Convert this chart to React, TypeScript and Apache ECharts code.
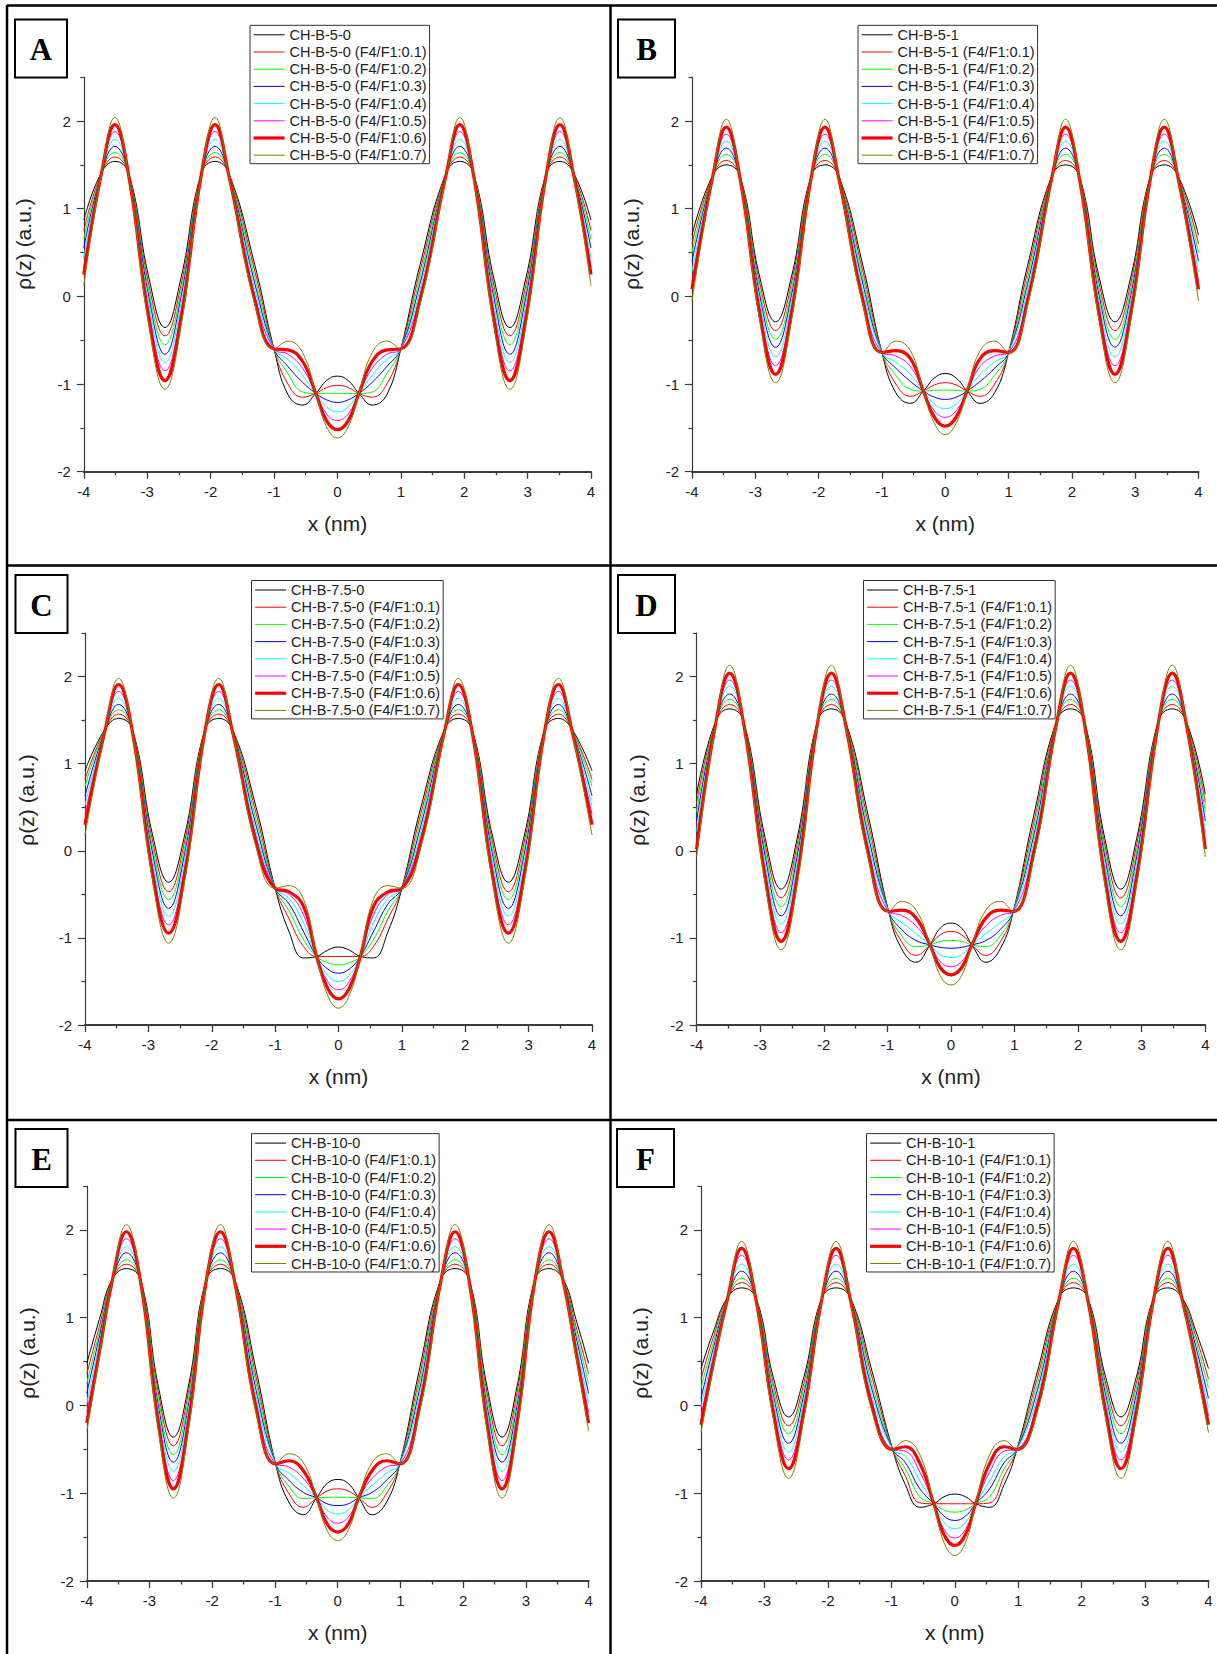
import React, { useEffect, useRef } from "react";
import * as echarts from "echarts";

// ---------- tick values ----------
const X_TICKS = [-4, -3, -2, -1, 0, 1, 2, 3, 4];
const X_MINOR = [-3.5, -2.5, -1.5, -0.5, 0.5, 1.5, 2.5, 3.5];
const Y_TICKS = [-2, -1, 0, 1, 2];
const Y_MINOR = [-1.5, -0.5, 0.5, 1.5, 2.5];

// ---------- series names ----------
const SUFFIXES = ["", " (F4/F1:0.1)", " (F4/F1:0.2)", " (F4/F1:0.3)", " (F4/F1:0.4)", " (F4/F1:0.5)", " (F4/F1:0.6)", " (F4/F1:0.7)"];
const PREFIXES = ["CH-B-5-0", "CH-B-5-1", "CH-B-7.5-0", "CH-B-7.5-1", "CH-B-10-0", "CH-B-10-1"];

// ---------- data: panel A ----------
const xA = [-4, -3.73, -3.51, -3.29, -2.97, -2.72, -2.47, -2.15, -1.93, -1.71, -1.3, -1, -0.78, -0.55, -0.34, -0.17, 0, 0.17, 0.34, 0.55, 0.78, 1, 1.3, 1.71, 1.93, 2.15, 2.47, 2.72, 2.97, 3.29, 3.51, 3.73, 4];
const yA = [
  [0.87, 1.4, 1.54, 1.4, 0.2, -0.355, 0.2, 1.4, 1.54, 1.4, 0.35, -0.6, -1.12, -1.24, -1.107, -0.96, -0.91, -0.96, -1.107, -1.24, -1.12, -0.6, 0.35, 1.4, 1.54, 1.4, 0.2, -0.355, 0.2, 1.4, 1.54, 1.4, 0.87],
  [0.75, 1.39, 1.59, 1.39, 0.12, -0.45, 0.12, 1.39, 1.59, 1.39, 0.28, -0.6, -1.0, -1.15, -1.107, -1.04, -1.015, -1.04, -1.107, -1.15, -1.0, -0.6, 0.28, 1.39, 1.59, 1.39, 0.12, -0.45, 0.12, 1.39, 1.59, 1.39, 0.75],
  [0.65, 1.39, 1.64, 1.39, 0.05, -0.55, 0.05, 1.39, 1.64, 1.39, 0.21, -0.6, -0.88, -1.09, -1.107, -1.107, -1.107, -1.107, -1.107, -1.09, -0.88, -0.6, 0.21, 1.39, 1.64, 1.39, 0.05, -0.55, 0.05, 1.39, 1.64, 1.39, 0.65],
  [0.55, 1.38, 1.71, 1.38, -0.02, -0.66, -0.02, 1.38, 1.71, 1.38, 0.14, -0.6, -0.8, -0.98, -1.107, -1.18, -1.21, -1.18, -1.107, -0.98, -0.8, -0.6, 0.14, 1.38, 1.71, 1.38, -0.02, -0.66, -0.02, 1.38, 1.71, 1.38, 0.55],
  [0.43, 1.38, 1.79, 1.38, -0.1, -0.755, -0.1, 1.38, 1.79, 1.38, 0.07, -0.6, -0.72, -0.9, -1.107, -1.26, -1.317, -1.26, -1.107, -0.9, -0.72, -0.6, 0.07, 1.38, 1.79, 1.38, -0.1, -0.755, -0.1, 1.38, 1.79, 1.38, 0.43],
  [0.33, 1.37, 1.88, 1.37, -0.18, -0.85, -0.18, 1.37, 1.88, 1.37, 0, -0.6, -0.66, -0.82, -1.107, -1.34, -1.416, -1.34, -1.107, -0.82, -0.66, -0.6, 0, 1.37, 1.88, 1.37, -0.18, -0.85, -0.18, 1.37, 1.88, 1.37, 0.33],
  [0.25, 1.37, 1.96, 1.37, -0.27, -0.96, -0.27, 1.37, 1.96, 1.37, -0.05, -0.6, -0.61, -0.74, -1.107, -1.42, -1.52, -1.42, -1.107, -0.74, -0.61, -0.6, -0.05, 1.37, 1.96, 1.37, -0.27, -0.96, -0.27, 1.37, 1.96, 1.37, 0.25],
  [0.12, 1.36, 2.04, 1.36, -0.35, -1.06, -0.35, 1.36, 2.04, 1.36, -0.1, -0.6, -0.51, -0.64, -1.107, -1.49, -1.615, -1.49, -1.107, -0.64, -0.51, -0.6, -0.1, 1.36, 2.04, 1.36, -0.35, -1.06, -0.35, 1.36, 2.04, 1.36, 0.12],
];

// ---------- data: panel B ----------
const xB = [-4, -3.68, -3.46, -3.24, -2.93, -2.68, -2.43, -2.12, -1.9, -1.68, -1.3, -1, -0.78, -0.55, -0.345, -0.17, 0, 0.17, 0.345, 0.55, 0.78, 1, 1.3, 1.68, 1.9, 2.12, 2.43, 2.68, 2.93, 3.24, 3.46, 3.68, 4];
const yB = [
  [0.7, 1.37, 1.5, 1.37, 0.22, -0.29, 0.22, 1.37, 1.5, 1.37, 0.35, -0.64, -1.1, -1.22, -1.08, -0.93, -0.88, -0.93, -1.08, -1.22, -1.1, -0.64, 0.35, 1.37, 1.5, 1.37, 0.22, -0.29, 0.22, 1.37, 1.5, 1.37, 0.7],
  [0.6, 1.36, 1.55, 1.36, 0.15, -0.39, 0.15, 1.36, 1.55, 1.36, 0.28, -0.64, -1.0, -1.14, -1.08, -1.01, -0.985, -1.01, -1.08, -1.14, -1.0, -0.64, 0.28, 1.36, 1.55, 1.36, 0.15, -0.39, 0.15, 1.36, 1.55, 1.36, 0.6],
  [0.5, 1.36, 1.62, 1.36, 0.08, -0.49, 0.08, 1.36, 1.62, 1.36, 0.21, -0.64, -0.9, -1.06, -1.08, -1.072, -1.07, -1.072, -1.08, -1.06, -0.9, -0.64, 0.21, 1.36, 1.62, 1.36, 0.08, -0.49, 0.08, 1.36, 1.62, 1.36, 0.5],
  [0.4, 1.35, 1.69, 1.35, 0.01, -0.58, 0.01, 1.35, 1.69, 1.35, 0.14, -0.64, -0.82, -0.97, -1.08, -1.15, -1.175, -1.15, -1.08, -0.97, -0.82, -0.64, 0.14, 1.35, 1.69, 1.35, 0.01, -0.58, 0.01, 1.35, 1.69, 1.35, 0.4],
  [0.28, 1.35, 1.77, 1.35, -0.06, -0.69, -0.06, 1.35, 1.77, 1.35, 0.07, -0.64, -0.75, -0.89, -1.08, -1.23, -1.28, -1.23, -1.08, -0.89, -0.75, -0.64, 0.07, 1.35, 1.77, 1.35, -0.06, -0.69, -0.06, 1.35, 1.77, 1.35, 0.28],
  [0.17, 1.34, 1.85, 1.34, -0.13, -0.79, -0.13, 1.34, 1.85, 1.34, 0, -0.64, -0.68, -0.8, -1.08, -1.305, -1.38, -1.305, -1.08, -0.8, -0.68, -0.64, 0, 1.34, 1.85, 1.34, -0.13, -0.79, -0.13, 1.34, 1.85, 1.34, 0.17],
  [0.08, 1.34, 1.93, 1.34, -0.2, -0.89, -0.2, 1.34, 1.93, 1.34, -0.05, -0.64, -0.62, -0.71, -1.08, -1.38, -1.48, -1.38, -1.08, -0.71, -0.62, -0.64, -0.05, 1.34, 1.93, 1.34, -0.2, -0.89, -0.2, 1.34, 1.93, 1.34, 0.08],
  [-0.05, 1.33, 2.02, 1.33, -0.28, -0.985, -0.28, 1.33, 2.02, 1.33, -0.1, -0.64, -0.51, -0.62, -1.08, -1.45, -1.576, -1.45, -1.08, -0.62, -0.51, -0.64, -0.1, 1.33, 2.02, 1.33, -0.28, -0.985, -0.28, 1.33, 2.02, 1.33, -0.05],
];

// ---------- data: panel C ----------
const xC = [-4, -3.69, -3.47, -3.25, -2.93, -2.68, -2.43, -2.11, -1.89, -1.67, -1.3, -1, -0.78, -0.55, -0.345, -0.17, 0, 0.17, 0.345, 0.55, 0.78, 1, 1.3, 1.67, 1.89, 2.11, 2.43, 2.68, 2.93, 3.25, 3.47, 3.69, 4];
const yC = [
  [0.92, 1.39, 1.52, 1.39, 0.17, -0.36, 0.17, 1.39, 1.52, 1.39, 0.5, -0.43, -0.93, -1.23, -1.213, -1.14, -1.105, -1.14, -1.213, -1.23, -0.93, -0.43, 0.5, 1.39, 1.52, 1.39, 0.17, -0.36, 0.17, 1.39, 1.52, 1.39, 0.92],
  [0.82, 1.38, 1.57, 1.38, 0.1, -0.47, 0.1, 1.38, 1.57, 1.38, 0.43, -0.43, -0.78, -1.1, -1.213, -1.213, -1.213, -1.213, -1.213, -1.1, -0.78, -0.43, 0.43, 1.38, 1.57, 1.38, 0.1, -0.47, 0.1, 1.38, 1.57, 1.38, 0.82],
  [0.74, 1.38, 1.62, 1.38, 0.03, -0.56, 0.03, 1.38, 1.62, 1.38, 0.36, -0.43, -0.69, -1.02, -1.213, -1.285, -1.31, -1.285, -1.213, -1.02, -0.69, -0.43, 0.36, 1.38, 1.62, 1.38, 0.03, -0.56, 0.03, 1.38, 1.62, 1.38, 0.74],
  [0.63, 1.37, 1.68, 1.37, -0.04, -0.66, -0.04, 1.37, 1.68, 1.37, 0.29, -0.43, -0.61, -0.93, -1.213, -1.357, -1.405, -1.357, -1.213, -0.93, -0.61, -0.43, 0.29, 1.37, 1.68, 1.37, -0.04, -0.66, -0.04, 1.37, 1.68, 1.37, 0.63],
  [0.52, 1.37, 1.75, 1.37, -0.12, -0.75, -0.12, 1.37, 1.75, 1.37, 0.22, -0.43, -0.55, -0.83, -1.213, -1.43, -1.5, -1.43, -1.213, -0.83, -0.55, -0.43, 0.22, 1.37, 1.75, 1.37, -0.12, -0.75, -0.12, 1.37, 1.75, 1.37, 0.52],
  [0.42, 1.36, 1.83, 1.36, -0.2, -0.85, -0.2, 1.36, 1.83, 1.36, 0.16, -0.43, -0.5, -0.74, -1.213, -1.5, -1.596, -1.5, -1.213, -0.74, -0.5, -0.43, 0.16, 1.36, 1.83, 1.36, -0.2, -0.85, -0.2, 1.36, 1.83, 1.36, 0.42],
  [0.3, 1.36, 1.91, 1.36, -0.28, -0.945, -0.28, 1.36, 1.91, 1.36, 0.1, -0.43, -0.47, -0.64, -1.213, -1.58, -1.7, -1.58, -1.213, -0.64, -0.47, -0.43, 0.1, 1.36, 1.91, 1.36, -0.28, -0.945, -0.28, 1.36, 1.91, 1.36, 0.3],
  [0.18, 1.35, 1.98, 1.35, -0.36, -1.06, -0.36, 1.35, 1.98, 1.35, 0.04, -0.43, -0.4, -0.56, -1.213, -1.66, -1.807, -1.66, -1.213, -0.56, -0.4, -0.43, 0.04, 1.35, 1.98, 1.35, -0.36, -1.06, -0.36, 1.35, 1.98, 1.35, 0.18],
];

// ---------- data: panel D ----------
const xD = [-4, -3.7, -3.48, -3.26, -2.92, -2.67, -2.42, -2.1, -1.88, -1.66, -1.3, -0.98, -0.78, -0.55, -0.33, -0.17, 0, 0.17, 0.33, 0.55, 0.78, 0.98, 1.3, 1.66, 1.88, 2.1, 2.42, 2.67, 2.92, 3.26, 3.48, 3.7, 4];
const yD = [
  [0.65, 1.49, 1.63, 1.49, 0.14, -0.44, 0.14, 1.49, 1.63, 1.49, 0.4, -0.697, -1.12, -1.28, -1.08, -0.89, -0.83, -0.89, -1.08, -1.28, -1.12, -0.697, 0.4, 1.49, 1.63, 1.49, 0.14, -0.44, 0.14, 1.49, 1.63, 1.49, 0.65],
  [0.55, 1.48, 1.68, 1.48, 0.07, -0.54, 0.07, 1.48, 1.68, 1.48, 0.32, -0.697, -1.04, -1.2, -1.08, -0.965, -0.926, -0.965, -1.08, -1.2, -1.04, -0.697, 0.32, 1.48, 1.68, 1.48, 0.07, -0.54, 0.07, 1.48, 1.68, 1.48, 0.55],
  [0.45, 1.48, 1.74, 1.48, 0, -0.64, 0, 1.48, 1.74, 1.48, 0.25, -0.697, -0.97, -1.1, -1.08, -1.04, -1.03, -1.04, -1.08, -1.1, -0.97, -0.697, 0.25, 1.48, 1.74, 1.48, 0, -0.64, 0, 1.48, 1.74, 1.48, 0.45],
  [0.34, 1.47, 1.8, 1.47, -0.07, -0.746, -0.07, 1.47, 1.8, 1.47, 0.17, -0.697, -0.9, -1.03, -1.08, -1.108, -1.118, -1.108, -1.08, -1.03, -0.9, -0.697, 0.17, 1.47, 1.8, 1.47, -0.07, -0.746, -0.07, 1.47, 1.8, 1.47, 0.34],
  [0.22, 1.47, 1.89, 1.47, -0.15, -0.84, -0.15, 1.47, 1.89, 1.47, 0.1, -0.697, -0.82, -0.95, -1.08, -1.19, -1.225, -1.19, -1.08, -0.95, -0.82, -0.697, 0.1, 1.47, 1.89, 1.47, -0.15, -0.84, -0.15, 1.47, 1.89, 1.47, 0.22],
  [0.12, 1.46, 1.96, 1.46, -0.23, -0.94, -0.23, 1.46, 1.96, 1.46, 0.03, -0.697, -0.74, -0.86, -1.08, -1.27, -1.33, -1.27, -1.08, -0.86, -0.74, -0.697, 0.03, 1.46, 1.96, 1.46, -0.23, -0.94, -0.23, 1.46, 1.96, 1.46, 0.12],
  [0.02, 1.46, 2.04, 1.46, -0.31, -1.04, -0.31, 1.46, 2.04, 1.46, -0.03, -0.697, -0.68, -0.77, -1.08, -1.34, -1.424, -1.34, -1.08, -0.77, -0.68, -0.697, -0.03, 1.46, 2.04, 1.46, -0.31, -1.04, -0.31, 1.46, 2.04, 1.46, 0.02],
  [-0.07, 1.45, 2.13, 1.45, -0.39, -1.137, -0.39, 1.45, 2.13, 1.45, -0.09, -0.697, -0.58, -0.68, -1.08, -1.43, -1.54, -1.43, -1.08, -0.68, -0.58, -0.697, -0.09, 1.45, 2.13, 1.45, -0.39, -1.137, -0.39, 1.45, 2.13, 1.45, -0.07],
];

// ---------- data: panel E ----------
const xE = [-4, -3.8, -3.6, -3.37, -3.14, -2.86, -2.62, -2.38, -2.1, -1.87, -1.64, -1.3, -0.99, -0.78, -0.55, -0.336, -0.17, 0, 0.17, 0.336, 0.55, 0.78, 0.99, 1.3, 1.64, 1.87, 2.1, 2.38, 2.62, 2.86, 3.14, 3.37, 3.6, 3.8, 4];
const yE = [
  [0.48, 0.98, 1.43, 1.56, 1.43, 0.22, -0.36, 0.22, 1.43, 1.56, 1.43, 0.4, -0.665, -1.1, -1.245, -1.052, -0.89, -0.843, -0.89, -1.052, -1.245, -1.1, -0.665, 0.4, 1.43, 1.56, 1.43, 0.22, -0.36, 0.22, 1.43, 1.56, 1.43, 0.98, 0.48],
  [0.36, 0.9, 1.42, 1.61, 1.42, 0.15, -0.46, 0.15, 1.42, 1.61, 1.42, 0.32, -0.665, -1.0, -1.16, -1.052, -0.975, -0.95, -0.975, -1.052, -1.16, -1.0, -0.665, 0.32, 1.42, 1.61, 1.42, 0.15, -0.46, 0.15, 1.42, 1.61, 1.42, 0.9, 0.36],
  [0.25, 0.84, 1.42, 1.66, 1.42, 0.08, -0.56, 0.08, 1.42, 1.66, 1.42, 0.25, -0.665, -0.92, -1.06, -1.052, -1.047, -1.045, -1.047, -1.052, -1.06, -0.92, -0.665, 0.25, 1.42, 1.66, 1.42, 0.08, -0.56, 0.08, 1.42, 1.66, 1.42, 0.84, 0.25],
  [0.14, 0.78, 1.41, 1.74, 1.41, 0, -0.646, 0, 1.41, 1.74, 1.41, 0.17, -0.665, -0.85, -0.99, -1.052, -1.12, -1.14, -1.12, -1.052, -0.99, -0.85, -0.665, 0.17, 1.41, 1.74, 1.41, 0, -0.646, 0, 1.41, 1.74, 1.41, 0.78, 0.14],
  [0.02, 0.72, 1.41, 1.81, 1.41, -0.06, -0.75, -0.06, 1.41, 1.81, 1.41, 0.1, -0.665, -0.77, -0.91, -1.052, -1.19, -1.235, -1.19, -1.052, -0.91, -0.77, -0.665, 0.1, 1.41, 1.81, 1.41, -0.06, -0.75, -0.06, 1.41, 1.81, 1.41, 0.72, 0.02],
  [-0.08, 0.66, 1.4, 1.9, 1.4, -0.13, -0.855, -0.13, 1.4, 1.9, 1.4, 0.03, -0.665, -0.7, -0.83, -1.052, -1.27, -1.34, -1.27, -1.052, -0.83, -0.7, -0.665, 0.03, 1.4, 1.9, 1.4, -0.13, -0.855, -0.13, 1.4, 1.9, 1.4, 0.66, -0.08],
  [-0.2, 0.6, 1.4, 1.98, 1.4, -0.2, -0.95, -0.2, 1.4, 1.98, 1.4, -0.03, -0.665, -0.63, -0.74, -1.052, -1.35, -1.443, -1.35, -1.052, -0.74, -0.63, -0.665, -0.03, 1.4, 1.98, 1.4, -0.2, -0.95, -0.2, 1.4, 1.98, 1.4, 0.6, -0.2],
  [-0.29, 0.55, 1.39, 2.06, 1.39, -0.28, -1.056, -0.28, 1.39, 2.06, 1.39, -0.09, -0.665, -0.55, -0.65, -1.052, -1.42, -1.538, -1.42, -1.052, -0.65, -0.55, -0.665, -0.09, 1.39, 2.06, 1.39, -0.28, -1.056, -0.28, 1.39, 2.06, 1.39, 0.55, -0.29],
];

// ---------- data: panel F ----------
const xF = [-4, -3.8, -3.59, -3.36, -3.13, -2.86, -2.62, -2.38, -2.1, -1.87, -1.64, -1.3, -0.98, -0.78, -0.55, -0.33, -0.17, 0, 0.17, 0.33, 0.55, 0.78, 0.98, 1.3, 1.64, 1.87, 2.1, 2.38, 2.62, 2.86, 3.13, 3.36, 3.59, 3.8, 4];
const yF = [
  [0.42, 0.85, 1.22, 1.34, 1.22, 0.32, -0.13, 0.32, 1.22, 1.34, 1.22, 0.38, -0.5, -0.9, -1.16, -1.12, -1.04, -1.01, -1.04, -1.12, -1.16, -0.9, -0.5, 0.38, 1.22, 1.34, 1.22, 0.32, -0.13, 0.32, 1.22, 1.34, 1.22, 0.85, 0.42],
  [0.3, 0.79, 1.21, 1.4, 1.21, 0.25, -0.23, 0.25, 1.21, 1.4, 1.21, 0.31, -0.5, -0.8, -1.11, -1.12, -1.12, -1.12, -1.12, -1.12, -1.11, -0.8, -0.5, 0.31, 1.21, 1.4, 1.21, 0.25, -0.23, 0.25, 1.21, 1.4, 1.21, 0.79, 0.3],
  [0.2, 0.73, 1.21, 1.45, 1.21, 0.19, -0.32, 0.19, 1.21, 1.45, 1.21, 0.24, -0.5, -0.72, -1.04, -1.12, -1.19, -1.215, -1.19, -1.12, -1.04, -0.72, -0.5, 0.24, 1.21, 1.45, 1.21, 0.19, -0.32, 0.19, 1.21, 1.45, 1.21, 0.73, 0.2],
  [0.08, 0.67, 1.2, 1.53, 1.2, 0.12, -0.43, 0.12, 1.2, 1.53, 1.2, 0.17, -0.5, -0.65, -0.95, -1.12, -1.26, -1.31, -1.26, -1.12, -0.95, -0.65, -0.5, 0.17, 1.2, 1.53, 1.2, 0.12, -0.43, 0.12, 1.2, 1.53, 1.2, 0.67, 0.08],
  [-0.02, 0.61, 1.2, 1.61, 1.2, 0.06, -0.53, 0.06, 1.2, 1.61, 1.2, 0.1, -0.5, -0.58, -0.86, -1.12, -1.33, -1.405, -1.33, -1.12, -0.86, -0.58, -0.5, 0.1, 1.2, 1.61, 1.2, 0.06, -0.53, 0.06, 1.2, 1.61, 1.2, 0.61, -0.02],
  [-0.12, 0.56, 1.19, 1.71, 1.19, -0.01, -0.62, -0.01, 1.19, 1.71, 1.19, 0.04, -0.5, -0.52, -0.76, -1.12, -1.41, -1.51, -1.41, -1.12, -0.76, -0.52, -0.5, 0.04, 1.19, 1.71, 1.19, -0.01, -0.62, -0.01, 1.19, 1.71, 1.19, 0.56, -0.12],
  [-0.22, 0.5, 1.19, 1.79, 1.19, -0.08, -0.72, -0.08, 1.19, 1.79, 1.19, -0.02, -0.5, -0.47, -0.66, -1.12, -1.47, -1.595, -1.47, -1.12, -0.66, -0.47, -0.5, -0.02, 1.19, 1.79, 1.19, -0.08, -0.72, -0.08, 1.19, 1.79, 1.19, 0.5, -0.22],
  [-0.31, 0.45, 1.18, 1.87, 1.18, -0.155, -0.83, -0.155, 1.18, 1.87, 1.18, -0.08, -0.5, -0.4, -0.56, -1.12, -1.56, -1.71, -1.56, -1.12, -0.56, -0.4, -0.5, -0.08, 1.18, 1.87, 1.18, -0.155, -0.83, -0.155, 1.18, 1.87, 1.18, 0.45, -0.31],
];

const PANEL_X = [xA, xB, xC, xD, xE, xF];
const PANEL_Y = [yA, yB, yC, yD, yE, yF];
const LABELS = ["A", "B", "C", "D", "E", "F"];

// ---------- styles / layout (kept apart from data) ----------
const COLORS = ["#000000", "#ff0000", "#00ff00", "#0000ff", "#00ffff", "#ff00ff", "#ff0000", "#808000"];
const WIDTHS = [1, 1, 1, 1, 1, 1, 3.2, 1];
const FONT = "'Liberation Sans', Arial, Helvetica, sans-serif";
const SERIF = "'Liberation Serif', 'Times New Roman', serif";
const AXIS_COLOR = "#3a3a3a";
const TEXT_COLOR = "#222";

const LAYOUT = [
  { grid: [83.8, 77.2, 507.2, 394.5], box: [15, 19.5, 52, 58], legend: [250, 25.3], yTitle: [23, 244] },
  { grid: [692, 77.2, 506.5, 394.5], box: [618, 19.5, 57, 58], legend: [858, 25.3], yTitle: [631, 244] },
  { grid: [85, 633.1, 507, 391.9], box: [15.5, 575, 52, 58], legend: [251.5, 580.5], yTitle: [26, 800] },
  { grid: [696.6, 633.1, 508.7, 391.9], box: [618, 575, 57, 58], legend: [863.5, 580.5], yTitle: [637, 800] },
  { grid: [86.8, 1186.1, 501.8, 394.9], box: [15.5, 1129, 52, 58], legend: [251.5, 1133.6], yTitle: [27, 1353] },
  { grid: [701, 1186.1, 507.5, 394.9], box: [617, 1129, 57, 58], legend: [866.5, 1133.6], yTitle: [640, 1353] },
];

const FRAME_LINES = [
  [7, 5.5, 1217, 5.5],
  [7, 5, 7, 1654],
  [610.5, 5, 610.5, 1654],
  [7, 565.5, 1217, 565.5],
  [7, 1120, 1217, 1120],
];

function buildOption() {
  const grid: any[] = [];
  const xAxis: any[] = [];
  const yAxis: any[] = [];
  const series: any[] = [];
  const legend: any[] = [];
  const graphic: any[] = [];

  LAYOUT.forEach((lay, i) => {
    const [gl, gt, gw, gh] = lay.grid;
    grid.push({ left: gl, top: gt, width: gw, height: gh, containLabel: false });

    xAxis.push({
      type: "value", gridIndex: i, min: -4, max: 4, interval: 1, position: "bottom",
      axisLine: { show: true, onZero: false, lineStyle: { color: AXIS_COLOR, width: 2 } },
      axisTick: { show: true, inside: false, length: 7, customValues: X_TICKS, lineStyle: { color: AXIS_COLOR, width: 1.3 } },
      axisLabel: { show: true, customValues: X_TICKS, margin: 12, fontSize: 15, color: TEXT_COLOR, fontFamily: FONT },
      splitLine: { show: false },
      name: "x (nm)", nameLocation: "middle", nameGap: 41,
      nameTextStyle: { fontSize: 21, color: TEXT_COLOR, fontFamily: FONT },
    });
    xAxis.push({
      type: "value", gridIndex: i, min: -4, max: 4, interval: 1, position: "bottom",
      axisLine: { show: false, onZero: false },
      axisTick: { show: true, inside: false, length: 3.5, customValues: X_MINOR, lineStyle: { color: AXIS_COLOR, width: 1.3 } },
      axisLabel: { show: false },
      splitLine: { show: false },
    });
    yAxis.push({
      type: "value", gridIndex: i, min: -2, max: 2.5, interval: 1, position: "left",
      axisLine: { show: true, onZero: false, lineStyle: { color: AXIS_COLOR, width: 1.2 } },
      axisTick: { show: true, inside: false, length: 7, customValues: Y_TICKS, lineStyle: { color: AXIS_COLOR, width: 1.2 } },
      axisLabel: { show: true, customValues: Y_TICKS, margin: 13, fontSize: 15, color: TEXT_COLOR, fontFamily: FONT },
      splitLine: { show: false },
    });
    yAxis.push({
      type: "value", gridIndex: i, min: -2, max: 2.5, interval: 1, position: "left",
      axisLine: { show: false, onZero: false },
      axisTick: { show: true, inside: false, length: 3.5, customValues: Y_MINOR, lineStyle: { color: AXIS_COLOR, width: 1.2 } },
      axisLabel: { show: false },
      splitLine: { show: false },
    });

    const xs = PANEL_X[i];
    const names: string[] = [];
    PANEL_Y[i].forEach((ys, k) => {
      const name = PREFIXES[i] + SUFFIXES[k];
      names.push(name);
      series.push({
        name, type: "line", xAxisIndex: 2 * i, yAxisIndex: 2 * i,
        data: xs.map((x, j) => [x, ys[j]]),
        symbol: "none", showSymbol: false, smooth: 0.45, silent: true,
        lineStyle: { color: COLORS[k], width: WIDTHS[k] },
        itemStyle: { color: COLORS[k] },
      });
    });

    legend.push({
      data: names, orient: "vertical", left: lay.legend[0], top: lay.legend[1],
      itemWidth: 31, itemHeight: 10, itemGap: 2.2, padding: [2, 3, 1, 2],
      borderColor: "#333", borderWidth: 1, backgroundColor: "#fff",
      selectedMode: false,
      itemStyle: { opacity: 0 },
      lineStyle: { width: "inherit" },
      textStyle: { fontSize: 14.5, lineHeight: 14, color: TEXT_COLOR, fontFamily: FONT },
    });

    const [bx, by, bw, bh] = lay.box;
    graphic.push({
      type: "rect", shape: { x: bx, y: by, width: bw, height: bh },
      style: { fill: "#fff", stroke: "#000", lineWidth: 2 }, z: 10,
    });
    graphic.push({
      type: "text", x: bx + bw / 2, y: by + bh / 2 + 1, z: 11,
      style: { text: LABELS[i], fontSize: 31, fontWeight: "bold", fontFamily: SERIF, fill: "#000", align: "center", verticalAlign: "middle" },
    });
    graphic.push({
      type: "text", x: lay.yTitle[0], y: lay.yTitle[1], rotation: Math.PI / 2, z: 11,
      style: { text: "ρ(z) (a.u.)", fontSize: 21, fontFamily: FONT, fill: TEXT_COLOR, align: "center", verticalAlign: "middle" },
    });
  });

  FRAME_LINES.forEach(([x1, y1, x2, y2]) => {
    graphic.push({ type: "line", shape: { x1, y1, x2, y2 }, style: { stroke: "#000", lineWidth: 2.5 }, z: 12 });
  });

  return { animation: false, backgroundColor: "#fff", grid, xAxis, yAxis, series, legend, graphic };
}

export default function App() {
  const ref = useRef<HTMLDivElement>(null);
  useEffect(() => {
    document.body.style.margin = "0";
    document.body.style.background = "#fff";
    if (!ref.current) return;
    const chart = echarts.init(ref.current, undefined, { renderer: "svg", width: 1217, height: 1654 });
    chart.setOption(buildOption() as any);
    return () => chart.dispose();
  }, []);
  return <div ref={ref} style={{ position: "absolute", left: 0, top: 0, width: 1217, height: 1654, background: "#fff" }} />;
}
